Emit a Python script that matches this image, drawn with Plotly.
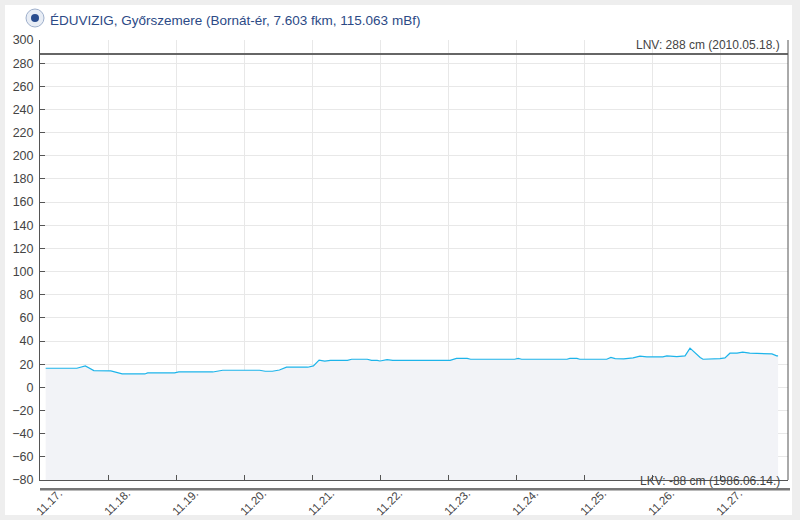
import plotly.graph_objects as go

# ---- data ----
times = [
    "2024-11-17 02:00", "2024-11-17 13:00", "2024-11-17 16:00", "2024-11-17 19:00",
    "2024-11-18 01:00", "2024-11-18 05:00", "2024-11-18 13:00", "2024-11-18 14:00",
    "2024-11-18 23:30", "2024-11-19 01:00", "2024-11-19 13:00", "2024-11-19 14:30",
    "2024-11-19 16:30", "2024-11-20 05:30", "2024-11-20 07:30", "2024-11-20 10:00",
    "2024-11-20 12:30", "2024-11-20 15:00", "2024-11-20 22:30", "2024-11-21 00:30",
    "2024-11-21 02:30", "2024-11-21 04:30", "2024-11-21 06:30", "2024-11-21 12:30",
    "2024-11-21 14:00", "2024-11-21 19:30", "2024-11-21 21:00", "2024-11-21 23:00",
    "2024-11-22 00:00", "2024-11-22 02:30", "2024-11-22 04:30", "2024-11-23 00:45",
    "2024-11-23 03:00", "2024-11-23 06:45", "2024-11-23 08:00", "2024-11-23 23:30",
    "2024-11-24 00:45", "2024-11-24 02:00", "2024-11-24 18:00", "2024-11-24 19:00",
    "2024-11-24 21:30", "2024-11-24 22:30", "2024-11-25 08:00", "2024-11-25 09:30",
    "2024-11-25 11:00", "2024-11-25 14:00", "2024-11-25 17:20", "2024-11-25 19:45",
    "2024-11-25 22:10", "2024-11-26 03:50", "2024-11-26 05:15", "2024-11-26 08:45",
    "2024-11-26 11:40", "2024-11-26 13:25", "2024-11-26 15:10", "2024-11-26 17:00",
    "2024-11-26 18:00", "2024-11-26 21:30", "2024-11-27 00:00", "2024-11-27 01:45",
    "2024-11-27 03:30", "2024-11-27 06:00", "2024-11-27 08:00", "2024-11-27 10:30",
    "2024-11-27 17:30", "2024-11-27 18:20", "2024-11-27 20:00", "2024-11-27 20:30",
]
levels = [
    16.5, 16.5, 18.5, 14.5,
    14.2, 11.6, 11.6, 12.5,
    12.5, 13.3, 13.3, 14.1,
    14.8, 14.8, 13.9, 13.9,
    15.0, 17.4, 17.4, 18.5,
    23.5, 22.6, 23.3, 23.3,
    24.3, 24.3, 23.3, 23.3,
    22.8, 24.0, 23.3, 23.3,
    25.0, 25.0, 24.3, 24.3,
    25.0, 24.3, 24.3, 25.0,
    25.0, 24.3, 24.3, 25.8,
    24.9, 24.6, 25.5, 26.9,
    26.3, 26.3, 27.2, 26.6,
    27.2, 33.9, 29.6, 25.8,
    24.3, 24.3, 24.9, 25.5,
    29.5, 29.5, 30.4, 29.5,
    29.5, 28.9, 27.2, 27.2,
]
title_text = "ÉDUVIZIG, Győrszemere (Bornát-ér, 7.603 fkm, 115.063 mBf)"
lnv_value = 288
lnv_label = "LNV: 288 cm (2010.05.18.)"
lkv_value = -88
lkv_label = "LKV: -88 cm (1986.06.14.)"
y_min, y_max = -80, 300
x_start, x_end = "2024-11-17 00:00", "2024-11-28 00:00"
tick_dates = ["2024-11-%02d" % d for d in range(17, 28)]
tick_labels = ["11.%02d." % d for d in range(17, 28)]

# ---- layout geometry (pixels) ----
W, H = 800, 520
ml, mr, mt, mb = 40, 12, 40, 40
pw, ph = W - ml - mr, H - mt - mb


def px_x(p):
    return (p - ml) / pw


def px_y(p):
    return (H - mb - p) / ph


FONT = "Liberation Sans, Arial, sans-serif"

fig = go.Figure()
fig.add_trace(go.Scatter(x=times, y=[y_min] * len(times), mode="lines",
                         line=dict(width=0), hoverinfo="skip", showlegend=False))
fig.add_trace(go.Scatter(x=times, y=levels, mode="lines", fill="tonexty",
                         fillcolor="#f2f3f7", line=dict(color="#1db4ea", width=1.2),
                         showlegend=False))

axis_col = "#555555"
font_col = "#444444"
lkv_paper = (lkv_value - y_min) / (y_max - y_min)

shapes = [
    # white card
    dict(type="rect", xref="paper", yref="paper", x0=px_x(5), x1=px_x(792),
         y0=px_y(515), y1=px_y(5), fillcolor="white", line=dict(width=0), layer="below"),
    # LNV line
    dict(type="line", xref="paper", yref="y", x0=0, x1=1, y0=lnv_value, y1=lnv_value,
         line=dict(color="#666666", width=2)),
    # LKV line (below the plot area)
    dict(type="line", xref="paper", yref="paper", x0=0, x1=px_x(790), y0=lkv_paper, y1=lkv_paper,
         line=dict(color="#777777", width=2.5)),
    # right border line
    dict(type="line", xref="paper", yref="paper", x0=1, x1=1, y0=0, y1=1,
         line=dict(color=axis_col, width=1)),
    # logo
    dict(type="circle", xref="paper", yref="paper", x0=px_x(26), x1=px_x(44),
         y0=px_y(27), y1=px_y(9), fillcolor="#e8edf5", line=dict(color="#9fb0cc", width=1)),
    dict(type="circle", xref="paper", yref="paper", x0=px_x(31), x1=px_x(39),
         y0=px_y(22), y1=px_y(14), fillcolor="#2a4d8f", line=dict(width=0)),
]

annotations = [
    dict(text=title_text, xref="paper", yref="paper", x=px_x(48), y=px_y(20),
         xanchor="left", yanchor="middle", showarrow=False,
         font=dict(family=FONT, size=13.5, color="#2c4a86")),
    dict(text=lnv_label, xref="paper", yref="paper", x=px_x(782), y=px_y(45),
         xanchor="right", yanchor="middle", showarrow=False,
         font=dict(family=FONT, size=12, color=font_col)),
    dict(text=lkv_label, xref="paper", yref="paper", x=px_x(782), y=px_y(481),
         xanchor="right", yanchor="middle", showarrow=False,
         font=dict(family=FONT, size=12, color=font_col)),
]

fig.update_layout(
    width=W, height=H,
    margin=dict(l=ml, r=mr, t=mt, b=mb, pad=0),
    paper_bgcolor="#eeeeee", plot_bgcolor="rgba(0,0,0,0)",
    showlegend=False,
    shapes=shapes, annotations=annotations,
    font=dict(family=FONT, size=12, color=font_col),
    xaxis=dict(range=[x_start, x_end], type="date", tickvals=tick_dates, ticktext=tick_labels,
               tickangle=-45, ticks="inside", ticklen=5, tickcolor=axis_col,
               ticklabelshift=19, ticklabelstandoff=1,
               showline=True, linecolor=axis_col, linewidth=1, automargin=False,
               showgrid=True, gridcolor="#e8e8e8", gridwidth=1, zeroline=False,
               tickfont=dict(family=FONT, size=11.5, color=font_col)),
    yaxis=dict(range=[y_min, y_max], tickmode="linear", tick0=-80, dtick=20,
               ticks="inside", ticklen=5, tickcolor=axis_col, ticklabelstandoff=3,
               showline=True, linecolor=axis_col, linewidth=1, automargin=False,
               showgrid=True, gridcolor="#e8e8e8", gridwidth=1, zeroline=False,
               tickfont=dict(family=FONT, size=12.5, color=font_col)),
)

fig.write_html(
    "out.html",
    config={"displayModeBar": False},
    post_script="document.body.style.margin='0';document.body.style.background='#eeeeee';",
)
